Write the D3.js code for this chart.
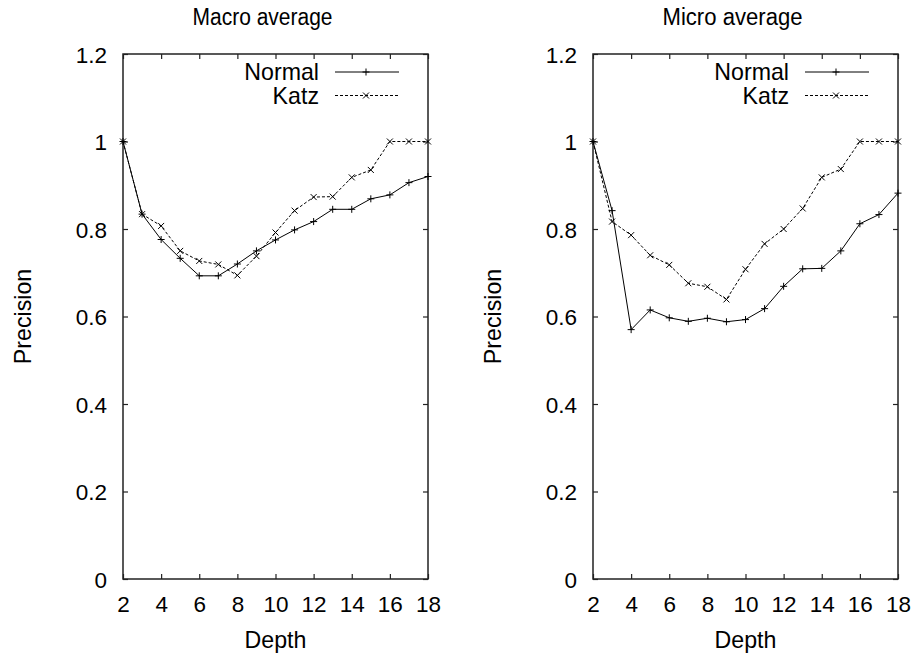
<!DOCTYPE html>
<html>
<head>
<meta charset="utf-8">
<script src="https://cdn.jsdelivr.net/npm/d3@7"></script>
<style>
  body { margin: 0; background: #fff; }
  text { font-family: "Liberation Sans", Arial, sans-serif; }
</style>
</head>
<body>
<div id="chart"></div>
<script>
// data
var depth = [2, 3, 4, 5, 6, 7, 8, 9, 10, 11, 12, 13, 14, 15, 16, 17, 18];
var macroNormal = [1.0, 0.834, 0.776, 0.733, 0.693, 0.693, 0.720, 0.750, 0.775, 0.798, 0.817, 0.845, 0.845, 0.869, 0.878, 0.906, 0.920];
var macroKatz   = [1.0, 0.834, 0.807, 0.750, 0.727, 0.719, 0.694, 0.738, 0.792, 0.842, 0.873, 0.874, 0.918, 0.935, 1.0, 1.0, 1.0];
var microNormal = [1.0, 0.842, 0.570, 0.615, 0.597, 0.589, 0.596, 0.588, 0.593, 0.618, 0.669, 0.709, 0.710, 0.750, 0.812, 0.833, 0.882];
var microKatz   = [1.0, 0.817, 0.786, 0.740, 0.718, 0.676, 0.668, 0.639, 0.708, 0.766, 0.800, 0.847, 0.918, 0.937, 1.0, 1.0, 1.0];
var xTicks = [2, 4, 6, 8, 10, 12, 14, 16, 18];
var yTicks = [0, 0.2, 0.4, 0.6, 0.8, 1.0, 1.2];
var seriesNames = ["Normal", "Katz"];

var panels = [
  {title: "Macro average", left: 123, normal: macroNormal, katz: macroKatz},
  {title: "Micro average", left: 593, normal: microNormal, katz: microKatz}
];

var W = 917, H = 655;
var plotTop = 54, plotBottom = 579, plotW = 305;
var fsTitle = 23, fsTick = 22.5, fsLabel = 23.2;

var svg = d3.select("#chart").append("svg")
  .attr("width", W)
  .attr("height", H);

var y = d3.scaleLinear().domain([0, 1.2]).range([plotBottom, plotTop]);
var fmt = function(d) { return String(+d.toFixed(1)); };

panels.forEach(function(p) {
  var x = d3.scaleLinear().domain([2, 18]).range([p.left, p.left + plotW]);
  var g = svg.append("g");

  // ticks on all four sides, pointing inward
  var ax = [
    g.append("g").attr("transform", "translate(0," + plotBottom + ")")
      .call(d3.axisBottom(x).tickValues(xTicks).tickSize(-5).tickPadding(17).tickFormat(d3.format("d"))),
    g.append("g").attr("transform", "translate(0," + plotTop + ")")
      .call(d3.axisTop(x).tickValues(xTicks).tickSize(-5).tickFormat("")),
    g.append("g").attr("transform", "translate(" + p.left + ",0)")
      .call(d3.axisLeft(y).tickValues(yTicks).tickSize(-5).tickPadding(16).tickFormat(fmt)),
    g.append("g").attr("transform", "translate(" + (p.left + plotW) + ",0)")
      .call(d3.axisRight(y).tickValues(yTicks).tickSize(-5).tickFormat(""))
  ];
  ax.forEach(function(a) {
    a.select(".domain").remove();
    a.selectAll(".tick line").attr("stroke", "#222").attr("stroke-width", 1.2);
    a.selectAll("text").attr("font-size", fsTick).attr("fill", "#000")
      .style("font-family", "'Liberation Sans', Arial, sans-serif");
  });
  ax[0].selectAll("text").attr("dy", "0.7em");
  ax[2].selectAll("text").attr("dy", "0.36em");

  g.append("rect")
    .attr("x", p.left).attr("y", plotTop)
    .attr("width", plotW).attr("height", plotBottom - plotTop)
    .attr("fill", "none").attr("stroke", "#222").attr("stroke-width", 1.5);

  // titles (the reference title font is a bit narrower)
  g.append("text").attr("x", p.left + plotW / 2 - 13).attr("y", 25)
    .attr("text-anchor", "middle").attr("font-size", fsTitle)
    .attr("textLength", 140).attr("lengthAdjust", "spacingAndGlyphs")
    .text(p.title);
  g.append("text").attr("x", p.left + plotW / 2).attr("y", 648)
    .attr("text-anchor", "middle").attr("font-size", fsLabel).text("Depth");
  g.append("text")
    .attr("transform", "translate(" + (p.left - 92) + "," + ((plotTop + plotBottom) / 2) + ") rotate(-90)")
    .attr("text-anchor", "middle").attr("font-size", fsLabel).text("Precision");

  var line = d3.line()
    .x(function(d, i) { return x(depth[i]); })
    .y(function(d) { return y(d); });

  var defs = [
    {name: seriesNames[0], vals: p.normal, dash: null, mark: "plus"},
    {name: seriesNames[1], vals: p.katz, dash: "3,2", mark: "cross"}
  ];

  function marker(sel, kind, cx, cy) {
    var s = 3.5;
    var path = kind == "plus"
      ? "M" + (cx - s) + "," + cy + "H" + (cx + s) + "M" + cx + "," + (cy - s) + "V" + (cy + s)
      : "M" + (cx - s + 0.5) + "," + (cy - s + 0.5) + "L" + (cx + s - 0.5) + "," + (cy + s - 0.5) +
        "M" + (cx - s + 0.5) + "," + (cy + s - 0.5) + "L" + (cx + s - 0.5) + "," + (cy - s + 0.5);
    sel.append("path").attr("d", path).attr("stroke", "#000").attr("stroke-width", 1).attr("fill", "none");
  }

  defs.forEach(function(s, k) {
    g.append("path")
      .datum(s.vals)
      .attr("d", line)
      .attr("fill", "none")
      .attr("stroke", "#000")
      .attr("stroke-width", 1)
      .attr("stroke-dasharray", s.dash);
    var mg = g.append("g");
    s.vals.forEach(function(v, i) { marker(mg, s.mark, x(depth[i]), y(v)); });

    // legend
    var ly = 72 + k * 23.5;
    g.append("text").attr("x", p.left + 196).attr("y", ly).attr("dy", "0.36em")
      .attr("text-anchor", "end").attr("font-size", fsLabel).text(s.name);
    g.append("line")
      .attr("x1", p.left + 212).attr("x2", p.left + 276)
      .attr("y1", ly).attr("y2", ly)
      .attr("stroke", "#000").attr("stroke-width", 1)
      .attr("stroke-dasharray", s.dash);
    marker(g, s.mark, p.left + 243, ly);
  });
});
</script>
</body>
</html>
